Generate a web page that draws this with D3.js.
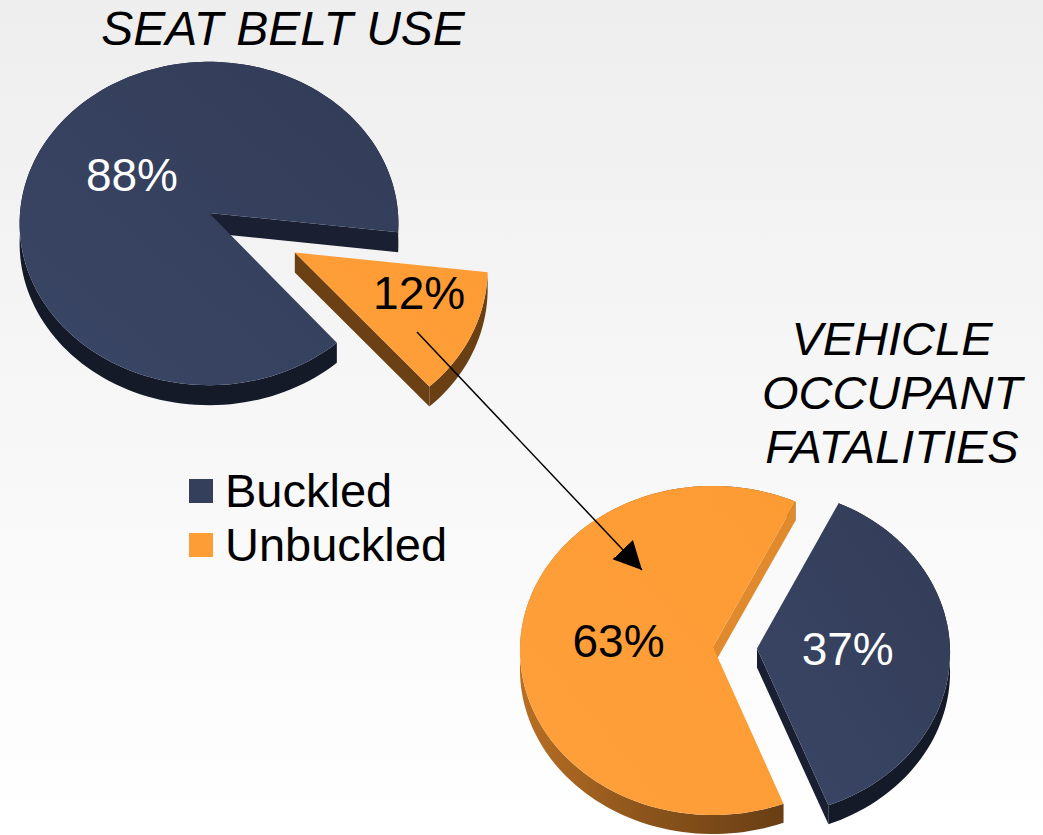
<!DOCTYPE html>
<html>
<head>
<meta charset="utf-8">
<script src="https://cdn.jsdelivr.net/npm/d3@7"></script>
<style>
html, body { margin: 0; padding: 0; overflow: hidden; background: #fff; }
svg { display: block; }
text { font-family: 'Liberation Sans', Arial, sans-serif; }
</style>
</head>
<body>
<script>
// data
var categories = ['Buckled', 'Unbuckled'];
var seatBeltUse = [88, 12];
var occupantFatalities = [37, 63];
var titleSeatBelt = ['SEAT BELT USE'];
var titleFatalities = ['VEHICLE', 'OCCUPANT', 'FATALITIES'];

var W = 1043, H = 835;
var svg = d3.select('body').append('svg').attr('width', W).attr('height', H);
var defs = svg.append('defs');

function gradient(id, stops, x1, y1, x2, y2, units) {
	var g = defs.append('linearGradient').attr('id', id)
		.attr('x1', x1).attr('y1', y1).attr('x2', x2).attr('y2', y2);
	if (units) g.attr('gradientUnits', units);
	stops.forEach((c, i) => g.append('stop')
		.attr('offset', (i / (stops.length - 1) * 100) + '%')
		.attr('stop-color', c));
}

gradient('bg', ['#eeeeee', '#f7f7f7', '#ffffff'], 0, 0, 0, 1);
gradient('navyTop', ['#323c57', '#3a4666'], 1, 0, 0, 1);
gradient('orangeTop', ['#fd9b33', '#ffa03b'], 1, 0, 0, 1);
gradient('orangeSide2', ['#b86f24', '#8a531b', '#6a3f15'], 520, 0, 780, 0, 'userSpaceOnUse');

svg.append('rect').attr('width', W).attr('height', H).attr('fill', 'url(#bg)');

var color = d3.scaleOrdinal().domain(categories).range(['url(#navyTop)', 'url(#orangeTop)']);
var legendColor = d3.scaleOrdinal().domain(categories).range(['#343f5c', '#fd9d36']);

// pie layouts (angles in degrees, d3 convention: 0 = 12 o'clock, clockwise)
var pies = [
	{
		values: seatBeltUse, cx: 209, cy: 213, R: 189, a: 161, b: 0.065, depth: 20,
		start: 140, explode: [0, 96], labelR: [0.47, 0.68], labelShift: [0, -6],
		labelColor: ['#ffffff', '#000000'],
		arcSide: ['#141a28', '#6a3f14'], cutSide: ['#1a2031', '#6b4015']
	},
	{
		values: occupantFatalities, cx: 713, cy: 647, R: 193, a: 164.5, b: 0.021, depth: 19,
		start: 25.8, explode: [44, 0], labelR: [0.47, 0.49], labelShift: [0, 0],
		labelColor: ['#ffffff', '#000000'],
		arcSide: ['#141a28', 'url(#orangeSide2)'], cutSide: ['#1a2031', '#e0892d']
	}
];

var rad = Math.PI / 180;
var line = d3.line();

pies.forEach(p => {
	var pie = d3.pie().sort(null).value(d => d)
		.startAngle(p.start * rad).endAngle(p.start * rad + 2 * Math.PI);
	var arcs = pie(p.values);

	// plane (u,v) -> screen, with a little perspective
	function project(u, v) {
		var s = 1 / (1 - p.b * v / p.R);
		return [p.cx + u * s, p.cy + v * (p.a / p.R) * s];
	}
	function planePt(theta, r, off) {
		return [off[0] + r * Math.sin(theta), off[1] - r * Math.cos(theta)];
	}
	function down(pt) { return [pt[0], pt[1] + p.depth]; }

	var slices = arcs.map((d, i) => {
		var mid = (d.startAngle + d.endAngle) / 2;
		var off = planePt(mid, p.explode[i], [0, 0]);
		var steps = Math.max(8, Math.ceil((d.endAngle - d.startAngle) / rad / 2));
		var arcPts = d3.range(steps + 1).map(k => {
			var t = d.startAngle + (d.endAngle - d.startAngle) * k / steps;
			var q = planePt(t, p.R, off);
			return project(q[0], q[1]);
		});
		var vertex = project(off[0], off[1]);
		var lp = planePt(mid + p.labelShift[i] * rad, p.R * p.labelR[i], off);
		return {d: d, i: i, mid: mid, arcPts: arcPts, vertex: vertex, label: project(lp[0], lp[1])};
	});

	// back to front
	slices.sort((s1, s2) => -Math.cos(s1.mid) - -Math.cos(s2.mid));

	var g = svg.append('g');
	slices.forEach(s => {
		var cat = categories[s.i];
		var sg = g.append('g').attr('class', 'slice ' + cat);

		// outer wall
		var wall = s.arcPts.concat(s.arcPts.slice().reverse().map(down));
		sg.append('path').attr('d', line(wall) + 'Z').attr('fill', p.arcSide[s.i]);

		// cut faces that face the viewer
		var first = s.arcPts[0], last = s.arcPts[s.arcPts.length - 1];
		if (Math.sin(s.d.startAngle) < 0) {
			sg.append('path').attr('d', line([s.vertex, first, down(first), down(s.vertex)]) + 'Z')
				.attr('fill', p.cutSide[s.i]);
		}
		if (Math.sin(s.d.endAngle) > 0) {
			sg.append('path').attr('d', line([s.vertex, last, down(last), down(s.vertex)]) + 'Z')
				.attr('fill', p.cutSide[s.i]);
		}

		// top face
		sg.append('path').attr('d', line([s.vertex].concat(s.arcPts)) + 'Z')
			.attr('fill', color(cat));
	});

	slices.forEach(s => {
		g.append('text')
			.attr('x', s.label[0]).attr('y', s.label[1] + 13)
			.attr('text-anchor', 'middle')
			.attr('font-size', 46)
			.attr('fill', p.labelColor[s.i])
			.text(s.d.data + '%');
	});
});

// titles
svg.append('text')
	.attr('font-size', 48).attr('font-style', 'italic').attr('text-anchor', 'middle').attr('fill', '#000')
	.selectAll('tspan')
	.data(titleSeatBelt)
	.enter().append('tspan')
		.attr('x', 283).attr('y', (d, i) => 45 + i * 54)
		.text(d => d);

svg.append('text')
	.attr('font-size', 47).attr('font-style', 'italic').attr('text-anchor', 'middle').attr('fill', '#000')
	.selectAll('tspan')
	.data(titleFatalities)
	.enter().append('tspan')
		.attr('x', 892).attr('y', (d, i) => 355 + i * 54)
		.text(d => d);

// legend
var legend = svg.append('g').selectAll('g')
	.data(categories)
	.enter().append('g')
		.attr('transform', (d, i) => 'translate(189,' + (479 + i * 54) + ')');
legend.append('rect')
	.attr('width', 24).attr('height', 24)
	.attr('fill', d => legendColor(d));
legend.append('text')
	.attr('x', 36).attr('y', 28)
	.attr('font-size', 47)
	.attr('fill', '#000')
	.text(d => d);

// arrow from the unbuckled share of belt use to the unbuckled share of fatalities
defs.append('marker')
	.attr('id', 'head')
	.attr('markerUnits', 'userSpaceOnUse')
	.attr('markerWidth', 30).attr('markerHeight', 30)
	.attr('refX', 28).attr('refY', 14)
	.attr('orient', 'auto')
	.append('path')
		.attr('d', 'M0,0 L28,14 L0,28 Z')
		.attr('fill', '#000');

svg.append('line')
	.attr('x1', 417).attr('y1', 332)
	.attr('x2', 642).attr('y2', 570)
	.attr('stroke', '#000')
	.attr('stroke-width', 1.5)
	.attr('marker-end', 'url(#head)');
</script>
</body>
</html>
